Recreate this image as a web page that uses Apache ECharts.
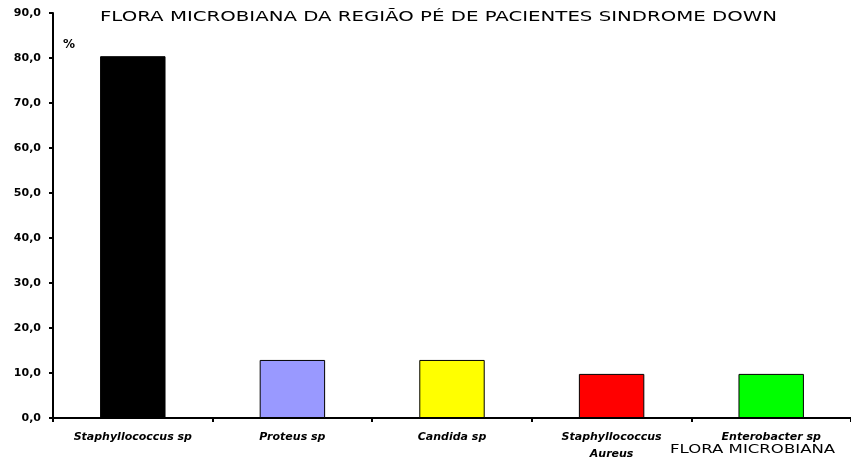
<!DOCTYPE html>
<html>
<head>
<meta charset="utf-8">
<script src="https://cdn.jsdelivr.net/npm/echarts@6/dist/echarts.min.js"></script>
<style>
  html, body { margin: 0; padding: 0; background: #fff; }
  #chart { width: 851px; height: 463px; }
</style>
</head>
<body>
<div id="chart"></div>
<script>
// 微生物类别
const categories = ['Staphyllococcus sp', 'Proteus sp', 'Candida sp', 'Staphyllococcus\nAureus', 'Enterobacter sp']
// 百分比
const values = [80.4, 12.9, 12.9, 9.8, 9.8]
const barColors = ['#000000', '#9999ff', '#ffff00', '#ff0000', '#00ff00']

const chart = echarts.init(document.getElementById('chart'))
const option = {
  animation: false,
  graphic: [
    {
      type: 'text',
      left: 100,
      top: 10,
      scaleX: 1.41,
      style: {
        text: 'FLORA MICROBIANA DA REGIÃO PÉ DE PACIENTES SINDROME DOWN',
        font: '14px "DejaVu Sans"',
        fill: '#000',
      },
    },
    {
      type: 'text',
      left: 670,
      top: 444,
      scaleX: 1.38,
      style: {
        text: 'FLORA MICROBIANA',
        font: '12px "DejaVu Sans"',
        fill: '#000',
      },
    },
  ],
  grid: { left: 53, top: 13, bottom: 45, width: 800 },
  xAxis: {
    type: 'category',
    data: categories,
    axisLine: { lineStyle: { color: '#000', width: 2 } },
    axisTick: { show: true, length: 4, lineStyle: { color: '#000', width: 2 } },
    axisLabel: {
      color: '#000',
      fontFamily: 'DejaVu Sans',
      fontStyle: 'italic',
      fontWeight: 'bold',
      fontSize: 11,
      margin: 11,
      interval: 0,
      lineHeight: 17,
    },
  },
  yAxis: {
    type: 'value',
    min: 0,
    max: 90,
    interval: 10,
    name: '%',
    nameLocation: 'end',
    nameGap: -26,
    nameTextStyle: { color: '#000', fontFamily: 'DejaVu Sans', fontWeight: 'bold', fontSize: 12, align: 'left', padding: [0, 0, 0, 10], verticalAlign: 'top' },
    axisLine: { show: true, lineStyle: { color: '#000', width: 2 } },
    axisTick: { show: true, length: 4, lineStyle: { color: '#000', width: 2 } },
    splitLine: { show: false },
    axisLabel: {
      color: '#000',
      fontFamily: 'DejaVu Sans',
      fontWeight: 'bold',
      fontSize: 11,
      margin: 12,
      formatter: (v) => v.toFixed(1).replace('.', ','),
    },
  },
  series: [
    {
      type: 'bar',
      barWidth: '41%',
      data: values.map((v, i) => ({
        value: v,
        itemStyle: { color: barColors[i], borderColor: '#000', borderWidth: 1 },
      })),
    },
  ],
}
chart.setOption(option)
</script>
</body>
</html>
